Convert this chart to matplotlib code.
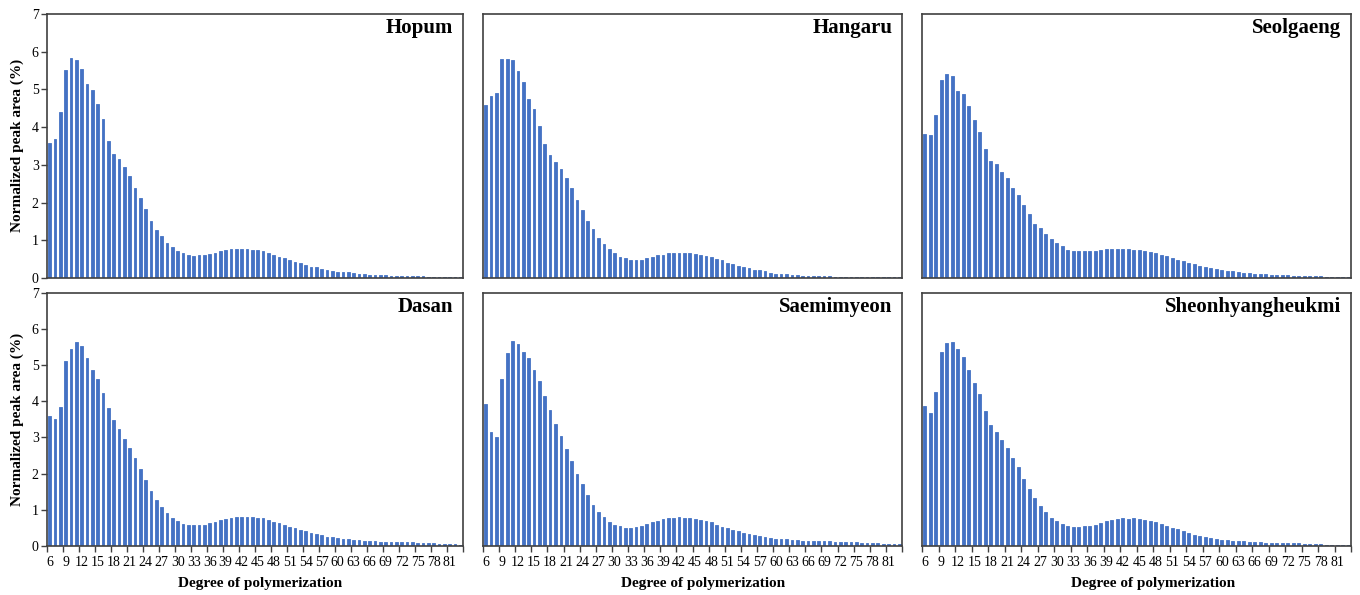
import matplotlib
matplotlib.use("Agg")
import matplotlib.pyplot as plt
import numpy as np

plt.rcParams['font.family'] = ['Liberation Serif', 'DejaVu Serif']

# degree of polymerization 6..83
dp = list(range(6, 84))

hopum = [3.57, 3.68, 4.39, 5.51, 5.84, 5.77, 5.53, 5.15, 4.99, 4.61,
         4.21, 3.63, 3.29, 3.15, 2.94, 2.70, 2.39, 2.12, 1.82, 1.52,
         1.28, 1.11, 0.92, 0.81, 0.71, 0.65, 0.61, 0.58, 0.60, 0.60,
         0.64, 0.66, 0.71, 0.74, 0.76, 0.76, 0.76, 0.76, 0.74, 0.73,
         0.71, 0.67, 0.62, 0.56, 0.52, 0.47, 0.43, 0.39, 0.35, 0.30,
         0.28, 0.25, 0.20, 0.19, 0.17, 0.15, 0.15, 0.12, 0.11, 0.11,
         0.08, 0.09, 0.09, 0.08, 0.06, 0.06, 0.05, 0.05, 0.05, 0.04,
         0.04, 0.035, 0.035, 0.03, 0.03, 0.02, 0.02, 0.02]

hangaru = [4.60, 4.82, 4.90, 5.82, 5.80, 5.78, 5.49, 5.21, 4.75, 4.48,
           4.02, 3.54, 3.27, 3.07, 2.89, 2.65, 2.39, 2.07, 1.80, 1.52,
           1.29, 1.07, 0.90, 0.77, 0.65, 0.56, 0.53, 0.49, 0.49, 0.49,
           0.53, 0.56, 0.60, 0.62, 0.65, 0.67, 0.67, 0.67, 0.66, 0.64,
           0.62, 0.59, 0.55, 0.50, 0.47, 0.41, 0.36, 0.33, 0.30, 0.26,
           0.22, 0.20, 0.18, 0.13, 0.11, 0.11, 0.10, 0.08, 0.07, 0.06,
           0.05, 0.04, 0.04, 0.04, 0.04, 0.03, 0.03, 0.03, 0.03, 0.03,
           0.03, 0.03, 0.02, 0.02, 0.02, 0.02, 0.02, 0.02]

seolgaeng = [3.83, 3.80, 4.31, 5.25, 5.41, 5.36, 4.96, 4.89, 4.56, 4.20,
             3.86, 3.41, 3.09, 3.01, 2.81, 2.66, 2.38, 2.19, 1.94, 1.69,
             1.42, 1.32, 1.16, 1.03, 0.93, 0.85, 0.75, 0.72, 0.71, 0.71,
             0.71, 0.71, 0.75, 0.76, 0.77, 0.77, 0.77, 0.76, 0.75, 0.73,
             0.71, 0.69, 0.65, 0.62, 0.58, 0.53, 0.48, 0.44, 0.40, 0.36,
             0.33, 0.30, 0.27, 0.24, 0.21, 0.19, 0.18, 0.16, 0.14, 0.13,
             0.11, 0.10, 0.10, 0.09, 0.08, 0.08, 0.07, 0.06, 0.06, 0.05,
             0.05, 0.04, 0.04, 0.03, 0.03, 0.03, 0.02, 0.02]

dasan = [3.59, 3.50, 3.83, 5.12, 5.45, 5.64, 5.51, 5.20, 4.85, 4.60,
         4.23, 3.82, 3.48, 3.23, 2.96, 2.71, 2.42, 2.13, 1.82, 1.53,
         1.28, 1.07, 0.90, 0.78, 0.69, 0.62, 0.58, 0.57, 0.57, 0.59,
         0.63, 0.65, 0.71, 0.74, 0.77, 0.79, 0.80, 0.80, 0.80, 0.78,
         0.77, 0.72, 0.67, 0.63, 0.58, 0.53, 0.49, 0.45, 0.41, 0.37,
         0.32, 0.29, 0.26, 0.24, 0.22, 0.19, 0.18, 0.17, 0.16, 0.14,
         0.15, 0.14, 0.12, 0.12, 0.12, 0.12, 0.10, 0.10, 0.10, 0.09,
         0.08, 0.07, 0.07, 0.055, 0.055, 0.05, 0.05, 0.04]

saemimyeon = [3.93, 3.16, 3.01, 4.61, 5.33, 5.65, 5.58, 5.36, 5.18, 4.87,
              4.56, 4.14, 3.75, 3.37, 3.03, 2.68, 2.35, 2.00, 1.70, 1.40,
              1.14, 0.95, 0.80, 0.67, 0.59, 0.54, 0.51, 0.51, 0.53, 0.56,
              0.61, 0.65, 0.70, 0.74, 0.77, 0.78, 0.80, 0.78, 0.78, 0.75,
              0.73, 0.68, 0.65, 0.57, 0.53, 0.49, 0.44, 0.41, 0.37, 0.33,
              0.30, 0.27, 0.25, 0.22, 0.20, 0.19, 0.18, 0.17, 0.17, 0.15,
              0.15, 0.15, 0.13, 0.13, 0.13, 0.11, 0.12, 0.11, 0.11, 0.11,
              0.09, 0.09, 0.09, 0.09, 0.065, 0.065, 0.065, 0.065]

sheonhyangheukmi = [3.86, 3.67, 4.26, 5.37, 5.60, 5.62, 5.44, 5.21, 4.85, 4.51,
                    4.21, 3.73, 3.34, 3.15, 2.94, 2.71, 2.42, 2.17, 1.84, 1.57,
                    1.32, 1.11, 0.93, 0.78, 0.68, 0.61, 0.55, 0.53, 0.53, 0.55,
                    0.56, 0.59, 0.64, 0.68, 0.72, 0.75, 0.77, 0.75, 0.77, 0.74,
                    0.72, 0.68, 0.66, 0.61, 0.55, 0.51, 0.46, 0.42, 0.35, 0.31,
                    0.27, 0.25, 0.22, 0.19, 0.17, 0.16, 0.15, 0.14, 0.13, 0.12,
                    0.10, 0.10, 0.09, 0.09, 0.08, 0.08, 0.07, 0.07, 0.07, 0.06,
                    0.05, 0.05, 0.05, 0.04, 0.04, 0.03, 0.03, 0.03]

names = ["Hopum", "Hangaru", "Seolgaeng", "Dasan", "Saemimyeon", "Sheonhyangheukmi"]
series = [hopum, hangaru, seolgaeng, dasan, saemimyeon, sheonhyangheukmi]

W, H = 1360, 595
fig = plt.figure(figsize=(W / 100, H / 100), dpi=100)

# panel boxes in pixels (left, right) / (top, bottom)
cols = [(47, 463), (483, 902), (922, 1351)]
rows = [(14, 278), (292.5, 546)]

bar_color = '#4472C4'
frame_color = '#404040'
x = np.arange(len(dp))

for i, (name, vals) in enumerate(zip(names, series)):
    r, c = divmod(i, 3)
    x0, x1 = cols[c]
    y0, y1 = rows[r]
    ax = fig.add_axes([x0 / W, 1 - y1 / H, (x1 - x0) / W, (y1 - y0) / H])
    # thin edge keeps the tiny tail bars visible
    ax.bar(x, vals, width=0.5, color=bar_color, edgecolor=bar_color, linewidth=0.6)
    ax.set_xlim(-0.5, len(dp) - 0.5)
    ax.set_ylim(0, 7)
    for s in ax.spines.values():
        s.set_color(frame_color)
        s.set_linewidth(1.2)

    if c == 0:
        ax.set_yticks(range(0, 8))
        ax.tick_params(axis='y', direction='out', length=4, width=1,
                       color=frame_color, labelsize=10, pad=2)
    else:
        ax.set_yticks([])

    if r == 1:
        ax.set_xticks(x[::3])
        ax.set_xticklabels([str(d) for d in dp[::3]])
        ax.set_xticks(np.arange(-0.5, len(dp), 3), minor=True)
        ax.tick_params(axis='x', which='major', length=0, labelsize=10, pad=7)
        ax.tick_params(axis='x', which='minor', direction='out', length=4,
                       width=1, color=frame_color)
        cx = [260, 703, 1153][c]
        fig.text(cx / W, 1 - 583 / H, "Degree of polymerization",
                 ha='center', va='center', fontsize=11, fontweight='bold')
    else:
        ax.set_xticks([])

    ax.annotate(name, xy=(1, 1), xycoords='axes fraction', xytext=(-7, -3),
                textcoords='offset points', ha='right', va='top',
                fontsize=15, fontweight='bold')

fig.text(17 / W, 1 - 145 / H, "Normalized peak area (%)", rotation=90,
         ha='center', va='center', fontsize=11, fontweight='bold')
fig.text(17 / W, 1 - 419 / H, "Normalized peak area (%)", rotation=90,
         ha='center', va='center', fontsize=11, fontweight='bold')

fig.savefig("out.png", dpi=100)
